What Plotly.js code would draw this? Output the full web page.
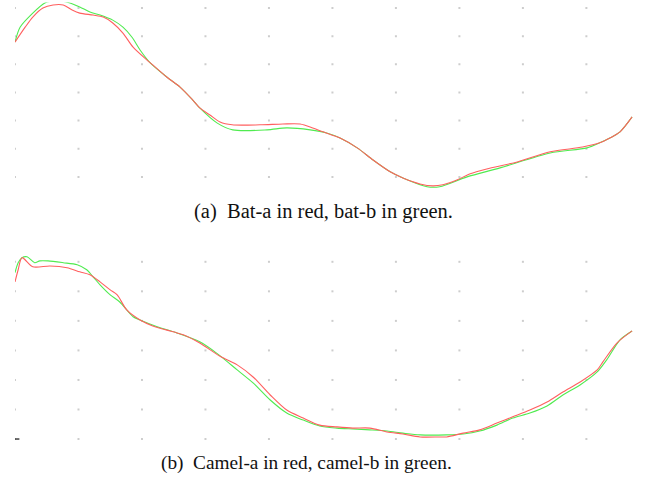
<!DOCTYPE html>
<html>
<head>
<meta charset="utf-8">
<script src="https://cdn.plot.ly/plotly-3.0.1.min.js"></script>
<style>
  html, body { margin: 0; padding: 0; background: #fff; }
  #chart { width: 646px; height: 481px; }
</style>
</head>
<body>
<div id="chart"></div>
<script>
// (a) bat curves
var batX_a = [0, 1.6, 2.8, 4.4, 6.0, 7.6, 9.0, 10.2, 12.3, 13.9, 15.4, 17.0, 18.6, 20.8, 21.7, 23.9, 26.0, 28.0, 29.1, 30.7, 32.3, 34.2, 38.6, 42.2, 44.9, 46.9, 48.5, 51.2, 53.9, 56.4, 59.1, 61.1, 63.8, 65.8, 67.4, 69.6, 71.7, 74.3, 79.1, 84.3, 89.4, 92.1, 93.7, 95.3, 97.2];
var batY_a = [47.9, 53.2, 56.8, 60.0, 61.1, 61.1, 59.3, 58.2, 57.5, 56.8, 54.7, 51.1, 46.1, 41.5, 39.8, 35.5, 31.9, 27.3, 24.5, 22.0, 19.5, 18.5, 18.5, 18.8, 18.8, 17.4, 16.0, 13.8, 10.3, 6.0, 1.8, -0.4, -2.5, -3.2, -2.8, -1.1, 1.1, 2.8, 5.3, 8.9, 10.6, 12.1, 13.8, 16.0, 21.3];

var batX_b = [0, 0.8, 2.8, 4.7, 6.0, 8.2, 10.2, 11.8, 13.4, 15.4, 17.0, 18.4, 19.7, 21.3, 23.9, 26.0, 28.0, 29.1, 31.8, 34.3, 39.7, 42.8, 46.5, 49.1, 51.2, 53.9, 56.4, 59.1, 61.1, 64.9, 66.9, 71.2, 76.4, 84.3, 90.1, 92.1, 93.7, 95.3, 97.2];
var batY_b = [47.9, 53.2, 58.2, 61.8, 62.5, 62.1, 60.4, 58.6, 57.5, 55.7, 53.2, 49.7, 45.1, 40.5, 35.5, 31.9, 27.3, 24.5, 19.2, 16.7, 16.7, 17.4, 16.7, 15.6, 13.8, 10.3, 6.0, 1.8, -0.4, -3.5, -3.5, 0, 3.2, 8.5, 10.3, 12.1, 13.8, 16.0, 21.3];

// (b) camel curves
var camelX_a = [0, 0.5, 1.1, 2.8, 5.5, 8.2, 10.2, 11.8, 13.4, 15.0, 16.1, 17.6, 19.7, 21.7, 24.9, 26.5, 29.1, 32.3, 35.0, 37.5, 40.2, 42.8, 45.4, 48.0, 50.7, 53.2, 55.9, 58.6, 61.1, 63.8, 66.9, 68.0, 70.6, 73.2, 75.9, 78.4, 81.1, 83.8, 86.3, 89.0, 91.7, 92.6, 94.8, 97.2];
var camelY_a = [53.2, 57.3, 61.4, 58.3, 58.6, 58.0, 56.6, 55.6, 53.2, 50.5, 48.8, 43.7, 40.3, 38.3, 36.3, 35.3, 32.5, 28.0, 25.1, 21.0, 14.9, 9.8, 7.1, 4.7, 4.1, 3.7, 3.7, 2.4, 1.7, 0.7, 0.7, 0.7, 2.0, 3.1, 5.4, 7.5, 9.8, 12.5, 15.9, 19.3, 23.4, 26.1, 32.5, 36.6];

var camelX_b = [0, 0.5, 1.1, 1.9, 3.1, 3.9, 5.2, 7.6, 9.8, 11.3, 12.3, 13.4, 15.0, 16.5, 18.6, 19.7, 22.4, 25.5, 29.1, 31.8, 35.0, 37.5, 40.2, 42.8, 45.4, 48.0, 50.7, 53.2, 55.9, 58.6, 61.1, 63.8, 68.0, 70.6, 73.2, 75.9, 78.4, 81.1, 83.8, 86.3, 89.0, 91.7, 93.2, 95.3, 97.2];
var camelY_b = [56.3, 59.7, 61.4, 61.7, 59.7, 60.3, 60.3, 59.7, 59.0, 57.3, 54.9, 52.2, 48.8, 46.4, 41.4, 40.3, 38.0, 35.9, 32.9, 29.0, 23.4, 19.0, 13.2, 8.8, 6.4, 4.4, 3.7, 3.4, 3.1, 2.7, 2.0, 1.4, 1.4, 1.7, 2.7, 4.7, 7.1, 8.8, 11.2, 14.9, 18.3, 22.7, 26.8, 33.6, 36.6];

// dotted grid positions
var gridCols = [0, 10, 20, 30, 40, 50, 60, 70, 80, 90];
var gridRows = [0, 10, 20, 30, 40, 50, 60];

var captionA = '(a)\u00a0\u00a0Bat-a in red, bat-b in green.';
var captionB = '(b)\u00a0\u00a0Camel-a in red, camel-b in green.';

var red = 'rgb(255,95,95)';
var green = 'rgb(80,235,80)';

var gx = [], gy = [];
gridCols.forEach(function (c) {
  gridRows.forEach(function (r) { gx.push(c); gy.push(r); });
});

function dots(xa, ya) {
  return {
    x: gx, y: gy, xaxis: xa, yaxis: ya, mode: 'markers', type: 'scatter',
    marker: {symbol: 'square', size: 2, color: '#cdcdcd', line: {width: 0}},
    hoverinfo: 'skip', showlegend: false
  };
}

function curve(x, y, col, xa, ya) {
  return {
    x: x, y: y, xaxis: xa, yaxis: ya, mode: 'lines', type: 'scatter',
    line: {color: col, width: 1.1, shape: 'spline', smoothing: 0.8},
    showlegend: false
  };
}

var data = [
  dots('x', 'y'),
  dots('x2', 'y2'),
  curve(batX_b, batY_b, green, 'x', 'y'),
  curve(batX_a, batY_a, red, 'x', 'y'),
  curve(camelX_b, camelY_b, green, 'x2', 'y2'),
  curve(camelX_a, camelY_a, red, 'x2', 'y2'),
  {x: [0.25], y: [0], xaxis: 'x2', yaxis: 'y2', mode: 'markers', type: 'scatter',
   marker: {symbol: 'line-ew', size: 4, line: {color: '#111', width: 1.2}},
   hoverinfo: 'skip', showlegend: false}
];

var hidden = {showgrid: false, zeroline: false, showticklabels: false, ticks: '', showline: false, fixedrange: true};

var layout = {
  width: 646, height: 481,
  margin: {l: 15, r: 12, t: 0, b: 0},
  paper_bgcolor: '#fff', plot_bgcolor: '#fff',
  xaxis: Object.assign({range: [0, 97.5], domain: [0, 1]}, hidden),
  yaxis: Object.assign({range: [-5, 62], domain: [0.603, 0.995]}, hidden),
  xaxis2: Object.assign({range: [0, 97.5], domain: [0, 1], anchor: 'y2'}, hidden),
  yaxis2: Object.assign({range: [-2, 62], domain: [0.075, 0.468], anchor: 'x2'}, hidden),
  annotations: [
    {text: captionA, xref: 'paper', yref: 'paper', x: 0.4976, y: 0.56,
     xanchor: 'center', yanchor: 'middle', showarrow: false,
     font: {family: 'Liberation Serif, Times New Roman, serif', size: 20.5, color: '#111'}},
    {text: captionB, xref: 'paper', yref: 'paper', x: 0.4717, y: 0.038,
     xanchor: 'center', yanchor: 'middle', showarrow: false,
     font: {family: 'Liberation Serif, Times New Roman, serif', size: 19.3, color: '#111'}}
  ]
};

Plotly.newPlot('chart', data, layout, {displayModeBar: false, staticPlot: true});
</script>
</body>
</html>
